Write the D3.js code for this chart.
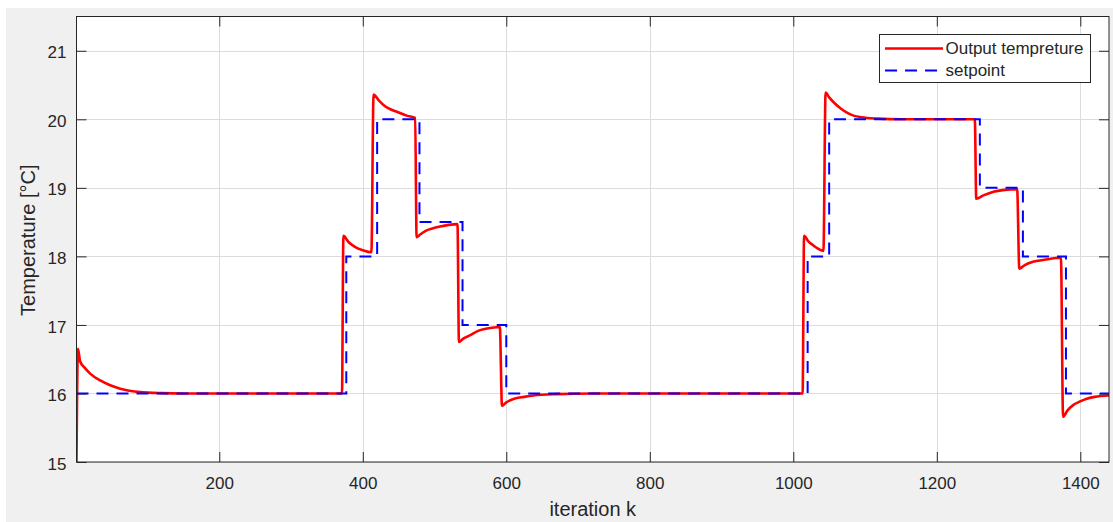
<!DOCTYPE html>
<html>
<head>
<meta charset="utf-8">
<script src="https://cdn.jsdelivr.net/npm/d3@7"></script>
<style>
  html, body { margin: 0; padding: 0; background: #ffffff; }
  svg { display: block; font-family: "Liberation Sans", Arial, sans-serif; }
</style>
</head>
<body>
<svg id="chart" width="1113" height="522"></svg>
<script>
// ---- data ----
const xTicks = [200, 400, 600, 800, 1000, 1200, 1400];
const yTicks = [15, 16, 17, 18, 19, 20, 21];

// setpoint change points [iteration k, temperature]
const setpointK = [1, 377, 420, 479, 539, 600, 1020, 1050, 1260, 1320, 1380, 1440];
const setpointV = [16, 18, 20, 18.5, 17, 16, 18, 20, 19, 18, 16, 16];

// output temperature samples [iteration k, temperature]
const outputK = [1, 3, 6, 12, 20, 34, 48, 62, 90, 120, 150, 371,
  373, 380, 389, 400, 412,
  415, 422, 431, 440, 450, 462, 473,
  475, 480, 487, 498, 510, 520, 532,
  534, 540, 550, 560, 570, 580, 591,
  594, 600, 610, 625, 638, 670, 720, 1013,
  1015, 1021, 1028, 1035, 1042,
  1045, 1050, 1058, 1067, 1076, 1085, 1095, 1118, 1150, 1253,
  1255, 1265, 1278, 1295, 1312,
  1315, 1322, 1334, 1350, 1373,
  1376, 1382, 1390, 1399, 1408, 1420, 1440];
const outputV = [15, 16.65, 16.47, 16.38, 16.29, 16.19, 16.12, 16.07, 16.02, 16.005, 16.0, 16.0,
  18.30, 18.21, 18.14, 18.09, 18.06,
  20.36, 20.28, 20.19, 20.14, 20.10, 20.05, 20.02,
  18.28, 18.32, 18.37, 18.41, 18.44, 18.46, 18.47,
  16.75, 16.80, 16.85, 16.91, 16.94, 16.96, 16.97,
  15.82, 15.87, 15.92, 15.95, 15.97, 15.99, 16.0, 16.0,
  18.30, 18.22, 18.16, 18.11, 18.08,
  20.39, 20.32, 20.23, 20.15, 20.09, 20.05, 20.03, 20.01, 20.0, 20.0,
  18.84, 18.89, 18.94, 18.97, 18.98,
  17.82, 17.87, 17.92, 17.95, 17.98,
  15.66, 15.75, 15.83, 15.88, 15.92, 15.95, 15.97];

const seriesNames = ["Output tempreture", "setpoint"];
const xLabel = "iteration k";
const yLabel = "Temperature [°C]";

// ---- layout ----
const W = 1113, H = 522;
const L = 76.5, R = 1109, T = 16.5, B = 462;
const textColor = "#262626";

const svg = d3.select("#chart");

svg.append("rect").attr("x", 6).attr("y", 8).attr("width", W - 6).attr("height", H - 8)
  .attr("fill", "#f0f0f0");
svg.append("rect").attr("x", L).attr("y", T).attr("width", R - L).attr("height", B - T)
  .attr("fill", "#ffffff");

const x = d3.scaleLinear().domain([1, 1440]).range([L, R]);
const y = d3.scaleLinear().domain([15, 21.5]).range([B, T]);

// grid
const grid = svg.append("g").attr("stroke", "#dcdcdc").attr("stroke-width", 1);
grid.selectAll(".gx").data(xTicks).join("line")
  .attr("x1", d => Math.round(x(d)) + 0.5).attr("x2", d => Math.round(x(d)) + 0.5)
  .attr("y1", T).attr("y2", B);
grid.selectAll(".gy").data(yTicks).join("line")
  .attr("y1", d => Math.round(y(d)) + 0.5).attr("y2", d => Math.round(y(d)) + 0.5)
  .attr("x1", L).attr("x2", R);

// clip
svg.append("clipPath").attr("id", "clip").append("rect")
  .attr("x", L).attr("y", T - 2).attr("width", R - L).attr("height", B - T + 4);

const plot = svg.append("g").attr("clip-path", "url(#clip)");

const outputData = outputK.map((k, i) => [k, outputV[i]]);
const setpointData = setpointK.map((k, i) => [k, setpointV[i]]);

plot.append("path").datum(outputData)
  .attr("fill", "none").attr("stroke", "#ff0000").attr("stroke-width", 2.6)
  .attr("stroke-linejoin", "round")
  .attr("d", d3.line().x(d => x(d[0])).y(d => y(d[1])).curve(d3.curveMonotoneX));

plot.append("path").datum(setpointData)
  .attr("fill", "none").attr("stroke", "#0000ff").attr("stroke-width", 2)
  .attr("stroke-dasharray", "12,8")
  .attr("d", d3.line().x(d => x(d[0])).y(d => y(d[1])).curve(d3.curveStepAfter));

// axes
function styleAxis(g) {
  g.select(".domain").remove();
  g.selectAll(".tick line").attr("stroke", textColor).attr("stroke-width", 1);
  g.selectAll(".tick text").attr("fill", textColor).attr("font-size", 17)
    .attr("font-family", "'Liberation Sans', Arial, sans-serif");
}

svg.append("g").attr("transform", `translate(0,${B})`)
  .call(d3.axisBottom(x).tickValues(xTicks).tickSize(-10).tickPadding(15).tickFormat(d3.format("d")))
  .call(styleAxis);
svg.append("g").attr("transform", `translate(0,${T})`)
  .call(d3.axisTop(x).tickValues(xTicks).tickSize(-10).tickFormat(""))
  .call(styleAxis);
svg.append("g").attr("transform", `translate(${L},0)`)
  .call(d3.axisLeft(y).tickValues(yTicks).tickSize(-10).tickPadding(10).tickFormat(d3.format("d")))
  .call(styleAxis)
  .call(g => g.selectAll(".tick text").attr("dy", "0.42em"));
svg.append("g").attr("transform", `translate(${R},0)`)
  .call(d3.axisRight(y).tickValues(yTicks).tickSize(-10).tickFormat(""))
  .call(styleAxis);

// box
svg.append("rect").attr("x", L).attr("y", T).attr("width", R - L).attr("height", B - T)
  .attr("fill", "none").attr("stroke", textColor).attr("stroke-width", 1);

// axis labels
svg.append("text").attr("x", (L + R) / 2).attr("y", 516).attr("text-anchor", "middle")
  .attr("font-size", 20).attr("fill", textColor).text(xLabel);
svg.append("text").attr("transform", `translate(35,${(T + B) / 2 + 1}) rotate(-90)`)
  .attr("text-anchor", "middle").attr("font-size", 20).attr("fill", textColor).text(yLabel);

// legend
const lg = svg.append("g");
lg.append("rect").attr("x", 879.5).attr("y", 34.5).attr("width", 211).attr("height", 48)
  .attr("fill", "#ffffff").attr("stroke", textColor).attr("stroke-width", 1);
const legendItems = [
  { name: seriesNames[0], color: "#ff0000", width: 2.6, dash: null, y: 48.5 },
  { name: seriesNames[1], color: "#0000ff", width: 2, dash: "12,8", y: 70.5 }
];
legendItems.forEach(it => {
  lg.append("line").attr("x1", 885).attr("x2", 943).attr("y1", it.y).attr("y2", it.y)
    .attr("stroke", it.color).attr("stroke-width", it.width)
    .attr("stroke-dasharray", it.dash);
  lg.append("text").attr("x", 945.5).attr("y", it.y).attr("dy", "0.35em")
    .attr("font-size", 17).attr("fill", textColor).text(it.name);
});
</script>
</body>
</html>
